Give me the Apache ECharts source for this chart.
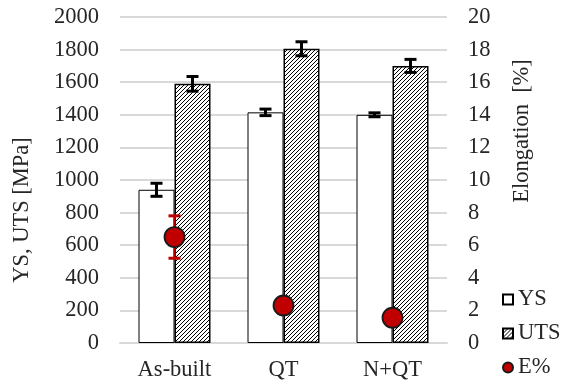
<!DOCTYPE html>
<html>
<head>
<meta charset="utf-8">
<script src="https://cdn.jsdelivr.net/npm/echarts@6/dist/echarts.min.js"></script>
<style>
  html, body { margin: 0; padding: 0; background: #fff; }
  #chart { width: 563px; height: 388px; }
</style>
</head>
<body>
<div id="chart"></div>
<script>
// Tensile properties per processing route
const categories = ['As-built', 'QT', 'N+QT'];
const ysValues = [940, 1415, 1400];
const ysErrors = [40, 20, 12];
const utsValues = [1590, 1805, 1700];
const utsErrors = [45, 43, 40];
const elongValues = [6.5, 2.3, 1.55];
const elongErrors = [1.3, 0, 0];
const leftTicks = { min: 0, max: 2000, interval: 200 };
const rightTicks = { min: 0, max: 20, interval: 2 };

const FONT = 'Liberation Serif';
const FONT_SIZE = 22.5;
const TEXT_COLOR = '#262626';
const BAR_W = 36;
const RED = '#c00000';

// Upward diagonal hatch used for the UTS bars
function makeHatch() {
  const c = document.createElement('canvas');
  c.width = 8; c.height = 8;
  const ctx = c.getContext('2d');
  const img = ctx.createImageData(8, 8);
  for (let y = 0; y < 8; y++) {
    for (let x = 0; x < 8; x++) {
      const i = (y * 8 + x) * 4;
      const on = (x + y) % 4 === 0;
      const v = on ? 0 : 255;
      img.data[i] = v; img.data[i + 1] = v; img.data[i + 2] = v; img.data[i + 3] = 255;
    }
  }
  ctx.putImageData(img, 0, 0);
  return c;
}
const hatch = makeHatch();

function errData(values, errors) {
  return values.map((v, i) => [i, v - errors[i], v + errors[i]]);
}

// Error bar with caps, shifted horizontally by `shift` pixels from the category centre
function errorBar(shift, color, capW, capLW, stemLW) {
  return function (params, api) {
    const lo = api.coord([api.value(0), api.value(1)]);
    const hi = api.coord([api.value(0), api.value(2)]);
    const x = lo[0] + shift;
    const s = { stroke: color, lineWidth: stemLW };
    const c = { stroke: color, lineWidth: capLW };
    return {
      type: 'group',
      children: [
        { type: 'line', shape: { x1: x, y1: hi[1], x2: x, y2: lo[1] }, style: s },
        { type: 'line', shape: { x1: x - capW / 2, y1: hi[1], x2: x + capW / 2, y2: hi[1] }, style: c },
        { type: 'line', shape: { x1: x - capW / 2, y1: lo[1], x2: x + capW / 2, y2: lo[1] }, style: c }
      ]
    };
  };
}

const chart = echarts.init(document.getElementById('chart'), null, { renderer: 'canvas' });

chart.setOption({
  animation: false,
  backgroundColor: '#fff',
  textStyle: { fontFamily: FONT, color: TEXT_COLOR },
  grid: { left: 120, right: 116, top: 17, bottom: 45, containLabel: false },
  legend: {
    orient: 'vertical',
    left: 497,
    top: 283,
    itemWidth: 10,
    itemHeight: 10,
    itemGap: 11,
    textStyle: { fontFamily: FONT, fontSize: FONT_SIZE, color: TEXT_COLOR, lineHeight: 22 },
    data: [
      { name: 'YS', icon: 'rect' },
      { name: 'UTS', icon: 'rect' },
      { name: 'E%', icon: 'circle' }
    ]
  },
  xAxis: {
    type: 'category',
    data: categories,
    axisLine: { show: true, lineStyle: { color: '#d9d9d9', width: 2 } },
    axisTick: { show: false },
    axisLabel: { fontFamily: FONT, fontSize: FONT_SIZE, color: TEXT_COLOR, margin: 16 }
  },
  yAxis: [
    {
      type: 'value',
      min: leftTicks.min, max: leftTicks.max, interval: leftTicks.interval,
      axisLine: { show: false },
      axisTick: { show: false },
      splitLine: { lineStyle: { color: '#d9d9d9', width: 2 } },
      axisLabel: { fontFamily: FONT, fontSize: FONT_SIZE, color: TEXT_COLOR, margin: 21, formatter: v => String(v) }
    },
    {
      type: 'value',
      min: rightTicks.min, max: rightTicks.max, interval: rightTicks.interval,
      axisLine: { show: false },
      axisTick: { show: false },
      splitLine: { show: false },
      axisLabel: { fontFamily: FONT, fontSize: FONT_SIZE, color: TEXT_COLOR, margin: 21, formatter: v => String(v) }
    }
  ],
  graphic: [
    {
      type: 'text', x: 22, y: 210, rotation: Math.PI / 2,
      style: { text: 'YS, UTS [MPa]', font: FONT_SIZE + 'px "Liberation Serif"', fill: TEXT_COLOR, align: 'center', verticalAlign: 'middle' }
    },
    {
      type: 'text', x: 522, y: 131, rotation: Math.PI / 2,
      style: { text: 'Elongation  [%]', font: FONT_SIZE + 'px "Liberation Serif"', fill: TEXT_COLOR, align: 'center', verticalAlign: 'middle' }
    }
  ],
  series: [
    {
      name: 'YS', type: 'bar', data: ysValues, barWidth: BAR_W, barGap: '0%',
      itemStyle: { color: '#ffffff', borderColor: '#000', borderWidth: 1 }
    },
    {
      name: 'UTS', type: 'bar', data: utsValues, barWidth: BAR_W, barGap: '0%',
      itemStyle: { color: { image: hatch, repeat: 'repeat' }, borderColor: '#000', borderWidth: 1.5 }
    },
    {
      name: 'YS err', type: 'custom', data: errData(ysValues, ysErrors), z: 5,
      encode: { x: 0, y: [1, 2] },
      renderItem: errorBar(-BAR_W / 2, '#000', 12, 3, 3)
    },
    {
      name: 'UTS err', type: 'custom', data: errData(utsValues, utsErrors), z: 5,
      encode: { x: 0, y: [1, 2] },
      renderItem: errorBar(BAR_W / 2, '#000', 12, 3, 3)
    },
    {
      name: 'E% err', type: 'custom', yAxisIndex: 1, data: errData(elongValues, elongErrors), z: 6,
      encode: { x: 0, y: [1, 2] },
      renderItem: errorBar(0, RED, 12, 3, 2)
    },
    {
      name: 'E%', type: 'scatter', yAxisIndex: 1, data: elongValues, z: 8,
      symbol: 'circle', symbolSize: 20,
      itemStyle: { color: RED, borderColor: '#1a1a1a', borderWidth: 1.8, opacity: 1 }
    }
  ]
});
</script>
</body>
</html>
